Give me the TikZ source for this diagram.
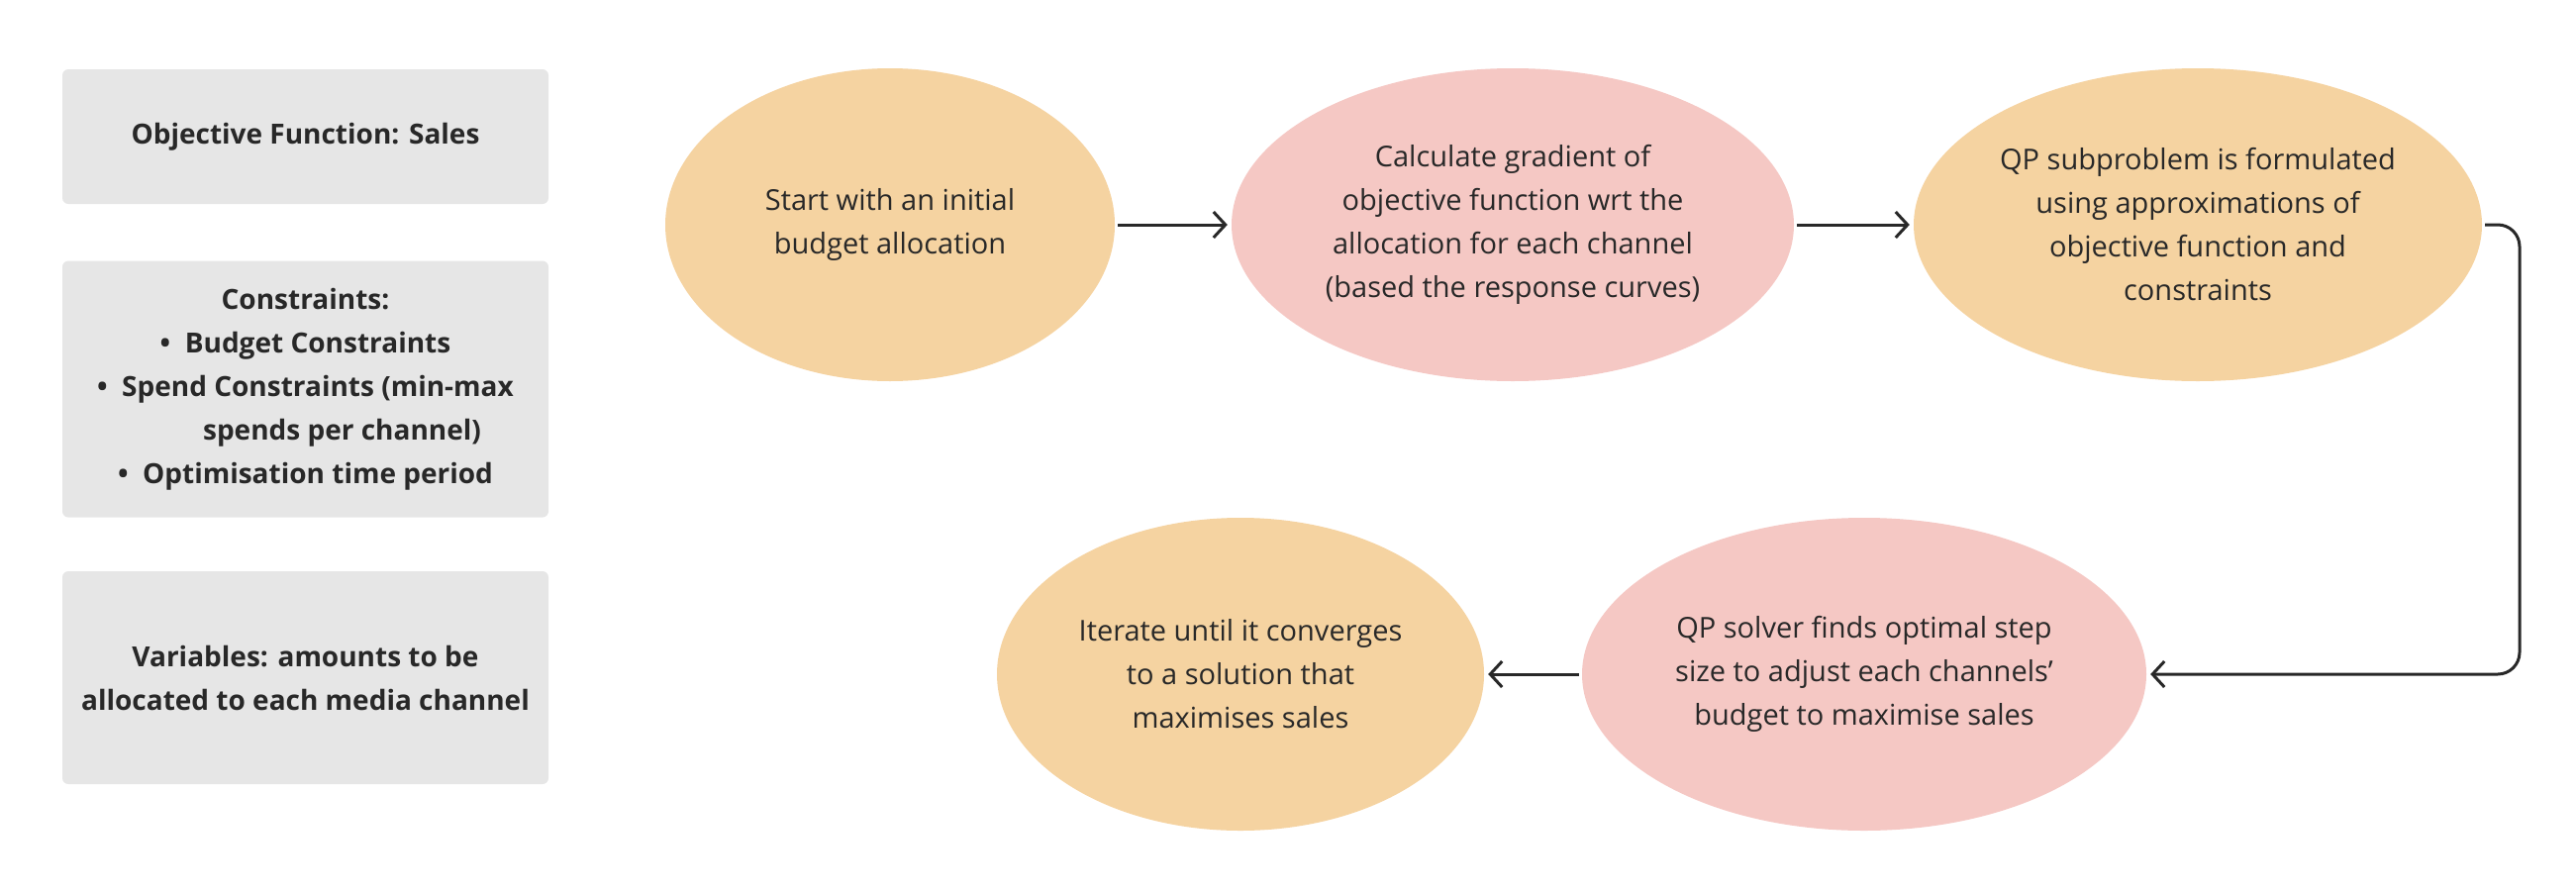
\documentclass[tikz,border=0pt]{standalone}
\usepackage{fontspec}
\setmainfont{Open Sans}
\usetikzlibrary{shapes.geometric,arrows.meta}
\definecolor{orangefill}{RGB}{245,211,161}
\definecolor{pinkfill}{RGB}{245,200,196}
\definecolor{boxgray}{RGB}{230,230,230}
\definecolor{ink}{RGB}{40,40,40}
\tikzset{
  infobox/.style={rectangle, rounded corners=6pt, fill=boxgray, minimum width=491pt, inner sep=0pt, align=center, text=ink, font=\fontsize{28}{44}\selectfont\bfseries},
  stage/.style={ellipse, inner sep=0pt, align=center, text=ink, font=\fontsize{29}{44}\selectfont, minimum height=316pt},
  orangestage/.style={stage, fill=orangefill},
  pinkstage/.style={stage, fill=pinkfill},
  flow/.style={draw=ink, line width=3pt, -{Straight Barb[length=12pt,width=26pt,line width=3pt]}, shorten <=3pt, shorten >=4pt}
}
\begin{document}
\begin{tikzpicture}[x=1pt,y=-1pt]
\useasboundingbox (0,0) rectangle (2602,900);
\node[infobox, minimum height=136pt] (obj) at (308.5,138) {Objective Function: Sales};
\node[infobox, minimum height=259pt] (con) at (308.5,393) {Constraints:\\
  \textbullet\ \ Budget Constraints\\
  \textbullet\ \ Spend Constraints (min-max\\
  \hspace*{74pt}spends per channel)\\
  \textbullet\ \ Optimisation time period};
\node[infobox, minimum height=215pt] (var) at (308.5,684.5) {Variables: amounts to be\\allocated to each media channel};

\node[orangestage, minimum width=454pt] (start) at (899,227) {Start with an initial\\budget allocation};
\node[pinkstage, minimum width=568pt] (grad) at (1528,227) {Calculate gradient of\\objective function wrt the\\allocation for each channel\\(based the response curves)};
\node[orangestage, minimum width=574pt] (qp) at (2220,227) {QP subproblem is formulated\\using approximations of\\objective function and\\constraints};
\node[pinkstage, minimum width=570pt] (solver) at (1883,681) {QP solver finds optimal step\\size to adjust each channels’\\budget to maximise sales};
\node[orangestage, minimum width=492pt] (iter) at (1253,681) {Iterate until it converges\\to a solution that\\maximises sales};

\coordinate (turn) at (2545,227);
\draw[flow] (start.east) -- (grad.west);
\draw[flow] (grad.east) -- (qp.west);
\draw[flow, rounded corners=22pt] (qp.east) -- (turn) |- (solver.east);
\draw[flow] (solver.west) -- (iter.east);
\end{tikzpicture}
\end{document}
